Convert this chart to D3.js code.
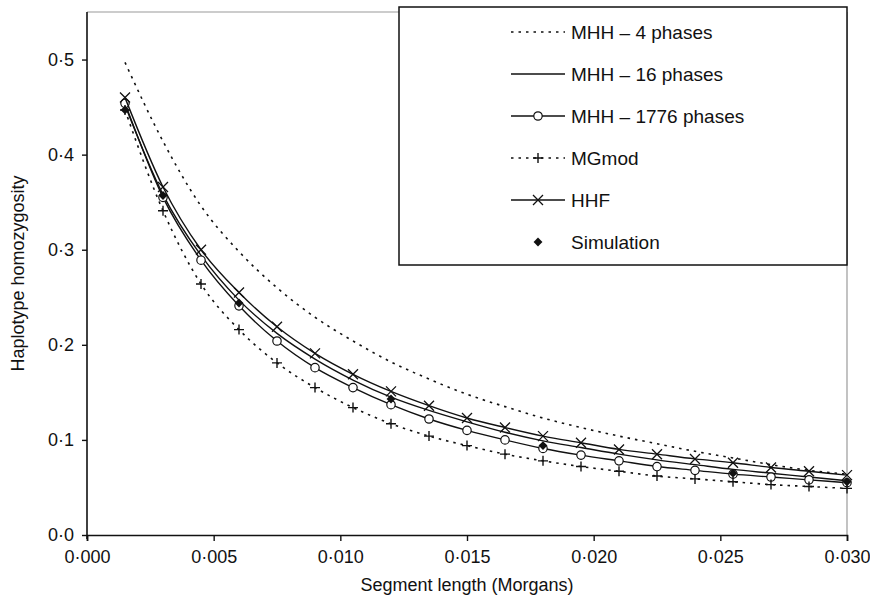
<!DOCTYPE html>
<html lang="en">
  <head>
    <meta charset="UTF-8" />
    <title>Haplotype homozygosity</title>
    <script src="https://cdn.jsdelivr.net/npm/d3@7"></script>
    <style>
      body {
        margin: 0;
        background: #fff;
      }
      svg {
        font-family: 'Liberation Sans', Arial, sans-serif;
      }
      .tick text {
        font-size: 18px;
        fill: #111;
      }
    </style>
  </head>
  <body>
    <svg width="870" height="600"></svg>

    <script>
      // segment lengths (Morgans)
      const segLen = [
        0.0015, 0.003, 0.0045, 0.006, 0.0075, 0.009, 0.0105, 0.012, 0.0135, 0.015,
        0.0165, 0.018, 0.0195, 0.021, 0.0225, 0.024, 0.0255, 0.027, 0.0285, 0.03
      ];
      const mhh4 = [
        0.497, 0.414, 0.346, 0.298, 0.260, 0.229, 0.204, 0.182, 0.164, 0.148,
        0.135, 0.123, 0.113, 0.104, 0.096, 0.088, 0.081, 0.074, 0.068, 0.064
      ];
      const mhh16 = [
        0.452, 0.358, 0.294, 0.247, 0.212, 0.185, 0.163, 0.145, 0.131, 0.119,
        0.108, 0.099, 0.092, 0.085, 0.079, 0.074, 0.069, 0.065, 0.061, 0.057
      ];
      const mhh1776 = [
        0.454, 0.355, 0.289, 0.241, 0.204, 0.176, 0.155, 0.137, 0.122, 0.110,
        0.100, 0.091, 0.084, 0.078, 0.072, 0.068, 0.064, 0.061, 0.058, 0.055
      ];
      const mgmod = [
        0.447, 0.341, 0.264, 0.216, 0.181, 0.155, 0.134, 0.117, 0.104, 0.094,
        0.085, 0.078, 0.072, 0.067, 0.062, 0.059, 0.056, 0.053, 0.051, 0.049
      ];
      const hhf = [
        0.460, 0.366, 0.300, 0.255, 0.219, 0.191, 0.169, 0.151, 0.136, 0.123,
        0.113, 0.104, 0.097, 0.090, 0.085, 0.080, 0.076, 0.071, 0.067, 0.063
      ];
      const simX = [0.0015, 0.003, 0.006, 0.012, 0.018, 0.0255, 0.03];
      const simY = [0.447, 0.357, 0.244, 0.143, 0.094, 0.065, 0.056];

      const xTicks = [0, 0.005, 0.01, 0.015, 0.02, 0.025, 0.03];
      const yTicks = [0, 0.1, 0.2, 0.3, 0.4, 0.5];

      const svg = d3.select('svg');
      const plotL = 87, plotR = 847, plotT = 12, plotB = 535;

      const x = d3.scaleLinear().domain([0, 0.03]).range([plotL, plotR]);
      const y = d3.scaleLinear().domain([0, 0.55]).range([plotB, plotT]);

      const dot = (s) => s.replace('.', '\u00b7');

      // frame: light top / right
      svg.append('line').attr('x1', plotL).attr('x2', plotR).attr('y1', plotT).attr('y2', plotT)
        .attr('stroke', '#9a9a9a').attr('stroke-width', 1.2);
      svg.append('line').attr('x1', plotR).attr('x2', plotR).attr('y1', plotT).attr('y2', plotB)
        .attr('stroke', '#9a9a9a').attr('stroke-width', 1.2);

      // axes
      const gx = svg.append('g')
        .attr('transform', `translate(0,${plotB})`)
        .call(d3.axisBottom(x).tickValues(xTicks).tickSize(6).tickPadding(9)
          .tickFormat((d) => dot(d3.format('.3f')(d))));
      const gy = svg.append('g')
        .attr('transform', `translate(${plotL},0)`)
        .call(d3.axisLeft(y).tickValues(yTicks).tickSize(5).tickPadding(8)
          .tickFormat((d) => dot(d3.format('.1f')(d))));
      [gx, gy].forEach((g) => {
        g.select('.domain').attr('stroke', '#111').attr('stroke-width', 1.6);
        g.selectAll('.tick line').attr('stroke', '#111').attr('stroke-width', 1.4);
        g.selectAll('.tick text').attr('font-family', null).attr('font-size', null);
      });
      gy.select('.domain').attr('d', `M0,${plotT}V${plotB + 4}`);

      svg.append('text')
        .attr('x', (plotL + plotR) / 2)
        .attr('y', 591)
        .attr('text-anchor', 'middle')
        .attr('font-size', 18)
        .attr('fill', '#111')
        .text('Segment length (Morgans)');
      svg.append('text')
        .attr('transform', `translate(24,${(plotT + plotB) / 2}) rotate(-90)`)
        .attr('text-anchor', 'middle')
        .attr('font-size', 18)
        .attr('fill', '#111')
        .text('Haplotype homozygosity');

      const line = d3.line().x((d) => x(d[0])).y((d) => y(d[1])).curve(d3.curveMonotoneX);
      const pairs = (xs, ys) => xs.map((v, i) => [v, ys[i]]);

      const series = [
        { name: 'MHH \u2013 4 phases', ys: mhh4, dash: '2.5,5', marker: null },
        { name: 'MHH \u2013 16 phases', ys: mhh16, dash: null, marker: null },
        { name: 'MHH \u2013 1776 phases', ys: mhh1776, dash: null, marker: 'circle' },
        { name: 'MGmod', ys: mgmod, dash: '2.5,5', marker: 'plus' },
        { name: 'HHF', ys: hhf, dash: null, marker: 'cross' }
      ];

      function drawMarker(g, type, cx, cy) {
        if (type === 'circle') {
          g.append('circle').attr('cx', cx).attr('cy', cy).attr('r', 4.2)
            .attr('fill', '#fff').attr('stroke', '#111').attr('stroke-width', 1.2);
        } else if (type === 'plus') {
          g.append('path').attr('d', `M${cx - 5},${cy}H${cx + 5}M${cx},${cy - 5}V${cy + 5}`)
            .attr('stroke', '#111').attr('stroke-width', 1.4);
        } else if (type === 'cross') {
          g.append('path')
            .attr('d', `M${cx - 5},${cy - 5}L${cx + 5},${cy + 5}M${cx - 5},${cy + 5}L${cx + 5},${cy - 5}`)
            .attr('stroke', '#111').attr('stroke-width', 1.3);
        } else if (type === 'diamond') {
          g.append('path').attr('d', d3.symbol(d3.symbolDiamond2, 50)())
            .attr('transform', `translate(${cx},${cy})`).attr('fill', '#111');
        }
      }

      const plot = svg.append('g');
      series.forEach((s) => {
        plot.append('path')
          .attr('d', line(pairs(segLen, s.ys)))
          .attr('fill', 'none')
          .attr('stroke', '#111')
          .attr('stroke-width', s.dash ? 1.6 : 1.4)
          .attr('stroke-dasharray', s.dash);
        if (s.marker) {
          segLen.forEach((v, i) => drawMarker(plot, s.marker, x(v), y(s.ys[i])));
        }
      });
      simX.forEach((v, i) => drawMarker(plot, 'diamond', x(v), y(simY[i])));

      // legend
      const lg = svg.append('g');
      lg.append('rect').attr('x', 399).attr('y', 7).attr('width', 448).attr('height', 258)
        .attr('fill', '#fff').attr('stroke', '#111').attr('stroke-width', 1.5);
      const items = series.concat([{ name: 'Simulation', marker: 'diamond', noLine: true }]);
      items.forEach((s, i) => {
        const cy = 32 + i * 42;
        if (!s.noLine) {
          lg.append('line').attr('x1', 511).attr('x2', 565).attr('y1', cy).attr('y2', cy)
            .attr('stroke', '#111').attr('stroke-width', s.dash ? 1.6 : 1.4)
            .attr('stroke-dasharray', s.dash);
        }
        if (s.marker) drawMarker(lg, s.marker, 538, cy);
        lg.append('text').attr('x', 571).attr('y', cy + 6.5)
          .attr('font-size', 19).attr('fill', '#111').text(s.name);
      });
    </script>
  </body>
</html>
